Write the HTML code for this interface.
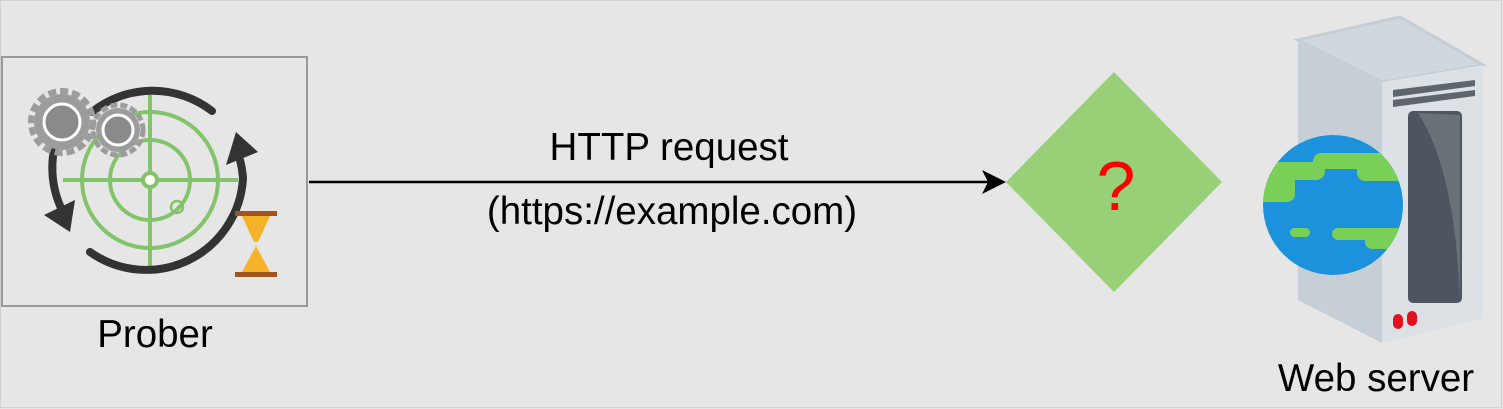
<!DOCTYPE html>
<html><head><meta charset="utf-8"><style>
html,body{margin:0;padding:0;background:#e6e6e6;}
svg{display:block;}
text{font-family:"Liberation Sans",Arial,sans-serif;}
</style></head><body>
<svg width="1503" height="409" viewBox="0 0 1503 409" xmlns="http://www.w3.org/2000/svg">
<rect x="0" y="0" width="1503" height="409" fill="#e6e6e6"/>
<rect x="0.5" y="0.5" width="1501" height="407" fill="none" stroke="#cfcfcf" stroke-width="1"/>
<!-- Prober box -->
<rect x="2" y="57" width="305" height="249" fill="#e6e6e6" stroke="#999" stroke-width="2"/>
<!-- radar -->
<g fill="none" stroke="#82c36b" stroke-width="4">
<circle cx="150" cy="180" r="68"/>
<circle cx="150" cy="180" r="40"/>
<line x1="63" y1="180" x2="238" y2="180"/>
<line x1="150" y1="95" x2="150" y2="268"/>
<circle cx="150" cy="180" r="7"/>
<circle cx="177" cy="207" r="6" stroke-width="2.5"/>
</g>
<circle cx="150" cy="180" r="5" fill="#fff"/>
<g fill="none" stroke="#333" stroke-width="8" stroke-linecap="round">
<path d="M92 112 A97 97 0 0 1 212 111"/>
<path d="M58 135 A97 97 0 0 0 62 210"/>
<path d="M90 252 A97 97 0 0 0 243 178 A97 97 0 0 0 240 160"/>
</g>
<polygon points="44,215 75,200 70,232" fill="#333"/>
<polygon points="236,132 258,152 226,165" fill="#333"/>
<!-- gears -->
<g>
<circle cx="62" cy="122" r="28" fill="#9c9c9c"/>
<circle cx="62" cy="122" r="31" fill="none" stroke="#9c9c9c" stroke-width="6" stroke-dasharray="8 4"/>
<circle cx="62" cy="122" r="18" fill="#8a8a8a" stroke="#fff" stroke-width="3"/>
<circle cx="118" cy="130" r="22" fill="#9c9c9c"/>
<circle cx="118" cy="130" r="25" fill="none" stroke="#9c9c9c" stroke-width="5" stroke-dasharray="7 3"/>
<circle cx="118" cy="130" r="15" fill="#8a8a8a" stroke="#fff" stroke-width="3"/>
</g>
<!-- hourglass -->
<rect x="235" y="211" width="42" height="5" fill="#a0561e"/>
<rect x="235" y="272" width="42" height="5" fill="#a0561e"/>
<polygon points="242,216 270,216 258,242 254,242" fill="#f5b32a"/>
<polygon points="256,246 270,272 242,272" fill="#f5b32a"/>
<!-- labels -->
<text x="155" y="347" font-size="38.5" text-anchor="middle" fill="#000">Prober</text>
<!-- arrow -->
<line x1="309" y1="182" x2="990" y2="182" stroke="#000" stroke-width="2.5"/>
<polygon points="1006,182 982,170 988,182 982,194" fill="#000"/>
<text x="669" y="160" font-size="38.5" text-anchor="middle" fill="#000">HTTP request</text>
<text x="672" y="224" font-size="38.5" text-anchor="middle" fill="#000">(https://example.com)</text>
<!-- diamond -->
<polygon points="1006,182 1114,72 1222,182 1114,292" fill="#97d077"/>
<text x="1116" y="210" font-size="70" text-anchor="middle" fill="#f00">?</text>
<!-- server -->
<polygon points="1298,40 1400,17 1483,65 1382,82" fill="#d0d8de" stroke="#c5ced5" stroke-width="3"/>
<polygon points="1298,40 1382,82 1382,343 1298,300" fill="#c6cfd6"/>
<polygon points="1382,82 1483,65 1483,318 1382,343" fill="#dbe1e5"/>
<polygon points="1393,90 1475,80 1475,86 1393,97" fill="#5f656d"/>
<polygon points="1393,100 1475,90 1475,96 1393,107" fill="#5f656d"/>
<rect x="1408" y="111" width="54" height="192" rx="5" fill="#4f555e"/>
<path d="M1418 113 Q1455 170 1460 300 L1460 115 Z" fill="#6b7179"/>
<rect x="1393" y="314" width="10" height="15" rx="5" fill="#e3101f"/>
<rect x="1407" y="311" width="10" height="15" rx="5" fill="#e3101f"/>
<!-- globe -->
<clipPath id="g"><circle cx="1333" cy="205" r="70"/></clipPath>
<circle cx="1333" cy="205" r="70" fill="#1d92dc"/>
<g clip-path="url(#g)" fill="#7acf57">
<rect x="1255" y="162" width="70" height="18" rx="9"/>
<rect x="1255" y="170" width="40" height="32" rx="8"/>
<rect x="1313" y="153" width="70" height="16" rx="8"/>
<rect x="1357" y="153" width="50" height="28" rx="8"/>
<rect x="1290" y="228" width="20" height="9" rx="4.5"/>
<rect x="1332" y="228" width="75" height="12" rx="6"/>
<rect x="1365" y="235" width="40" height="14" rx="7"/>
</g>
<text x="1376" y="391" font-size="38.5" text-anchor="middle" fill="#000">Web server</text>
</svg>
</body></html>
